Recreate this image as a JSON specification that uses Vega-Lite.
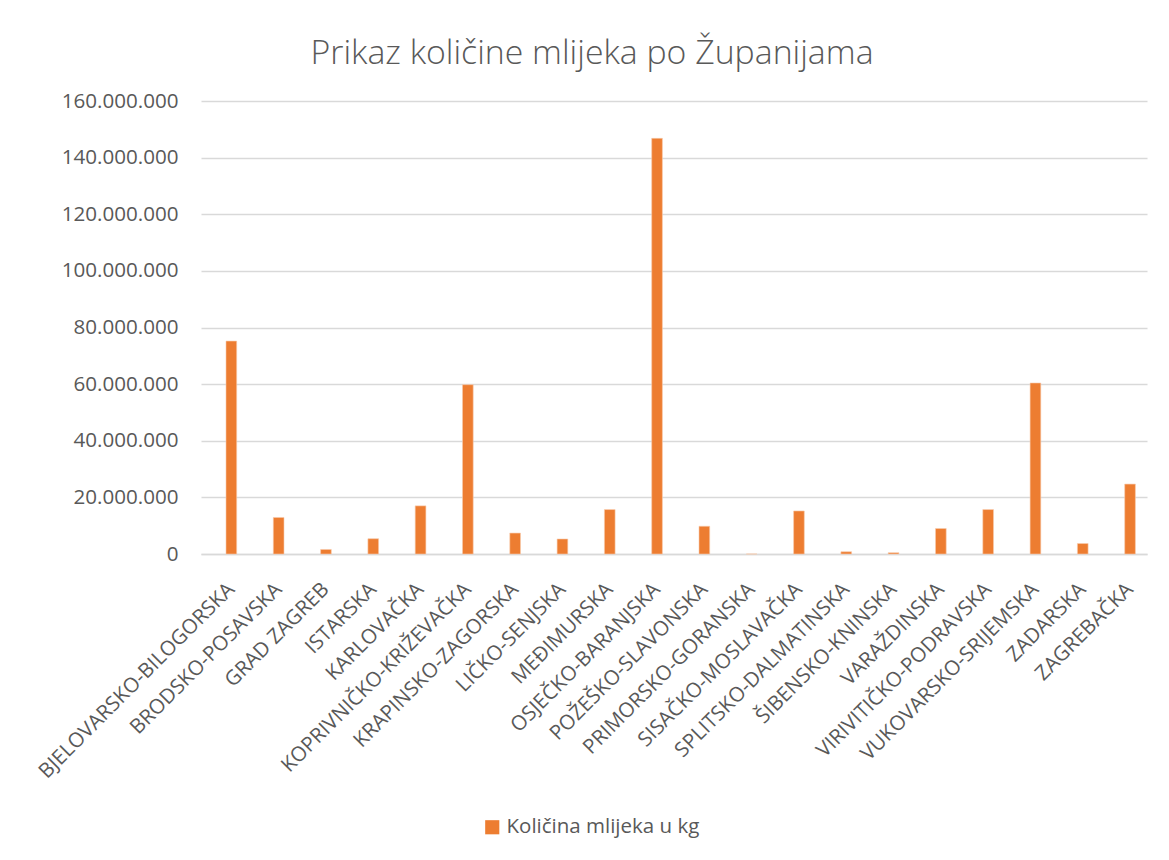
{
  "$schema": "https://vega.github.io/schema/vega-lite/v6.json",
  "autosize": "none",
  "width": 946,
  "height": 453,
  "padding": {"left": 201, "top": 101, "right": 22, "bottom": 306},
  "background": "white",
  "config": {
    "locale": {"number": {"decimal": ",", "thousands": ".", "grouping": [3], "currency": ["", " kn"]}},
    "view": {"stroke": null},
    "font": "Open Sans"
  },
  "title": {
    "text": "Prikaz količine mlijeka po Županijama",
    "fontSize": 33.8,
    "fontWeight": 300,
    "color": "#595959",
    "font": "Open Sans",
    "anchor": "middle",
    "dx": -82,
    "offset": 20
  },
  "data": {
    "values": [
      {"zupanija": "BJELOVARSKO-BILOGORSKA", "kolicina": 75200000},
      {"zupanija": "BRODSKO-POSAVSKA", "kolicina": 12900000},
      {"zupanija": "GRAD ZAGREB", "kolicina": 1600000},
      {"zupanija": "ISTARSKA", "kolicina": 5400000},
      {"zupanija": "KARLOVAČKA", "kolicina": 17000000},
      {"zupanija": "KOPRIVNIČKO-KRIŽEVAČKA", "kolicina": 59800000},
      {"zupanija": "KRAPINSKO-ZAGORSKA", "kolicina": 7400000},
      {"zupanija": "LIČKO-SENJSKA", "kolicina": 5300000},
      {"zupanija": "MEĐIMURSKA", "kolicina": 15700000},
      {"zupanija": "OSJEČKO-BARANJSKA", "kolicina": 146800000},
      {"zupanija": "POŽEŠKO-SLAVONSKA", "kolicina": 9800000},
      {"zupanija": "PRIMORSKO-GORANSKA", "kolicina": 0},
      {"zupanija": "SISAČKO-MOSLAVAČKA", "kolicina": 15200000},
      {"zupanija": "SPLITSKO-DALMATINSKA", "kolicina": 800000},
      {"zupanija": "ŠIBENSKO-KNINSKA", "kolicina": 450000},
      {"zupanija": "VARAŽDINSKA", "kolicina": 9000000},
      {"zupanija": "VIRIVITIČKO-PODRAVSKA", "kolicina": 15700000},
      {"zupanija": "VUKOVARSKO-SRIJEMSKA", "kolicina": 60400000},
      {"zupanija": "ZADARSKA", "kolicina": 3700000},
      {"zupanija": "ZAGREBAČKA", "kolicina": 24700000}
    ]
  },
  "mark": {"type": "bar", "stroke": "#F8CBAD", "strokeWidth": 0.6},
  "encoding": {
    "x": {
      "field": "zupanija",
      "type": "nominal",
      "sort": null,
      "scale": {"paddingInner": 0.774, "paddingOuter": 0.387, "align": 0.683},
      "axis": {
        "title": null,
        "labelAngle": -45,
        "labelAlign": "right",
        "labelBaseline": "middle",
        "labelPadding": 32,
        "labelFontSize": 20.5,
        "labelColor": "#595959",
        "labelFont": "Open Sans",
        "ticks": false,
        "domain": true,
        "domainColor": "#D9D9D9",
        "domainWidth": 1.5,
        "grid": false,
        "labelOverlap": false,
        "labelLimit": 0
      }
    },
    "y": {
      "field": "kolicina",
      "type": "quantitative",
      "scale": {"domain": [0, 160000000], "nice": false},
      "axis": {
        "title": null,
        "values": [0, 20000000, 40000000, 60000000, 80000000, 100000000, 120000000, 140000000, 160000000],
        "format": ",.0f",
        "domain": false,
        "ticks": false,
        "grid": true,
        "gridColor": "#D9D9D9",
        "gridWidth": 1.5,
        "labelPadding": 23,
        "labelFontSize": 20.6,
        "labelColor": "#595959",
        "labelFont": "Open Sans"
      }
    },
    "color": {
      "datum": "Količina mlijeka u kg",
      "type": "nominal",
      "scale": {"range": ["#ED7D31"]},
      "legend": {
        "title": null,
        "orient": "none",
        "legendX": 281,
        "legendY": 716,
        "symbolType": "square",
        "symbolSize": 200,
        "symbolStrokeWidth": 0,
        "labelFontSize": 20.5,
        "labelColor": "#595959",
        "labelFont": "Open Sans",
        "labelOffset": 4,
        "labelLimit": 0
      }
    }
  }
}
